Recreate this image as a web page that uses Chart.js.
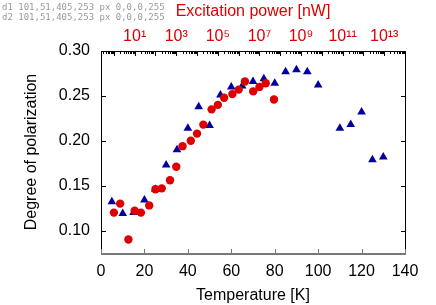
<!DOCTYPE html>
<html>
<head>
<meta charset="utf-8">
<script src="https://cdn.jsdelivr.net/npm/chart.js@4/dist/chart.umd.min.js"></script>
<style>
  html, body { margin: 0; background: #fff; }
  #wrap { width: 436px; height: 305px; position: relative; }
  #note { position: absolute; left: 2px; top: 2px; font: 9px monospace; color: #999; white-space: pre; }
</style>
</head>
<body>
<div id="wrap"><canvas id="chart"></canvas><div id="note"></div></div>
<script>
"use strict";
const note = document.getElementById("note");
const say = s => { note.textContent += s + "\n"; };
window.addEventListener("error", e => say("ERR " + e.message));

/* ---- data ---- */
const temperatureK = [5, 10, 15, 20, 25, 30, 35, 40, 45, 50, 55, 60, 65, 70, 75, 80, 85, 90, 95, 100, 110, 115, 120, 125, 130];
const polVsTemp    = [0.132, 0.119, 0.120, 0.134, 0.146, 0.173, 0.190, 0.214, 0.238, 0.217, 0.251, 0.260, 0.261, 0.266,
                      0.269, 0.264, 0.277, 0.279, 0.277, 0.262, 0.214, 0.218, 0.232, 0.179, 0.182];

const powerNW      = [1, 2, 5, 10, 20, 50, 1e2, 2e2, 5e2, 1e3, 2e3, 5e3, 1e4, 2e4, 5e4, 1e5, 2e5, 5e5, 1e6, 2e6, 5e6, 1e7, 2e7, 5e7];
const polVsPower   = [0.120, 0.130, 0.090, 0.122, 0.120, 0.128, 0.146, 0.147, 0.156, 0.171, 0.194, 0.200, 0.208, 0.218,
                      0.235, 0.240, 0.248, 0.252, 0.257, 0.266, 0.255, 0.260, 0.264, 0.246];

const labelledPowerExps = [1, 3, 5, 7, 9, 11, 13];
const powerTickExps     = [-1, 0, 1, 2, 3, 4, 5, 6, 7, 8, 9, 10, 11, 12, 13, 14];
const minorMultipliers  = [2, 3, 4, 5, 6, 7, 8, 9];

const RED   = "rgb(222,0,0)";
const BLUE  = "rgb(0,0,160)";
const AXIS  = "#000";
const FONT  = "'Liberation Sans', Arial, sans-serif";

const SUP = { "0": "⁰", "1": "¹", "2": "²", "3": "³", "4": "⁴", "5": "⁵", "6": "⁶", "7": "⁷", "8": "⁸", "9": "⁹" };
const supText  = n => String(n).split("").map(c => SUP[c]).join("");
const expOf    = v => Math.round(Math.log10(v));
const isDecade = v => Math.abs(Math.log10(v) - expOf(v)) < 1e-9;

const tickFont = { family: FONT, size: 16 };
const noGrid   = { display: false, drawTicks: false };

let draws = 0;

/* gnuplot-style closed frame with inward tick marks */
const frameTicks = {
  id: "frameTicks",
  afterDraw(chart) {
    try {
      const { ctx, chartArea: a, scales } = chart;
      const L = Math.round(a.left), Rt = Math.round(a.right);
      const T = Math.round(a.top),  B = Math.round(a.bottom);
      const at = (s, v) => Math.round(s.getPixelForValue(v));
      const x2 = scales.x2;

      ctx.save();
      ctx.fillStyle = AXIS;
      ctx.fillRect(L, T, Rt - L + 1, 1);
      ctx.fillRect(L, T, 1, B - T + 1);
      ctx.fillRect(Rt, T, 1, B - T + 1);
      scales.y.ticks.forEach(t => {
        const py = at(scales.y, t.value);
        ctx.fillRect(L, py, 5, 1);
        ctx.fillRect(Rt - 4, py, 5, 1);
      });
      powerTickExps.forEach(k => {
        const major = Math.pow(10, k);
        if (major >= x2.min && major <= x2.max) ctx.fillRect(at(x2, major), T, 1, 5);
        minorMultipliers.forEach(m => {
          const v = m * major;
          if (v >= x2.min && v <= x2.max) ctx.fillRect(at(x2, v), T, 1, 3);
        });
      });
      ctx.fillStyle = "#777";
      ctx.fillRect(L, B, Rt - L + 1, 2);
      scales.x.ticks.forEach(t => ctx.fillRect(at(scales.x, t.value), B - 4, 1, 4));
      ctx.restore();

      draws++;
      const px = ctx.getImageData(L, T + 60, 1, 1).data;
      say("d" + draws + " " + [L, T, Rt, B].join(",") + " px " + Array.from(px).join(","));
    } catch (e) { say("plugin " + e.message); }
  },
};

const chart = new Chart(document.getElementById("chart"), {
  type: "scatter",
  data: {
    datasets: [
      {
        label: "vs power",
        xAxisID: "x2",
        data: powerNW.map((p, i) => ({ x: p, y: polVsPower[i] })),
        pointRadius: 4.2,
        pointBorderWidth: 0,
        backgroundColor: RED,
      },
      {
        label: "vs temperature",
        xAxisID: "x",
        data: temperatureK.map((t, i) => ({ x: t, y: polVsTemp[i] })),
        pointStyle: "triangle",
        pointRadius: 5,
        pointBorderWidth: 0,
        backgroundColor: BLUE,
      },
    ],
  },
  options: {
    responsive: true,
    maintainAspectRatio: false,
    animation: false,
    devicePixelRatio: 1,
    layout: { padding: { left: 0, top: 0, bottom: 0, right: 31 } },
    plugins: { legend: { display: false }, tooltip: { enabled: false } },
    scales: {
      x: {
        type: "linear", position: "bottom", min: 0, max: 140,
        ticks: { stepSize: 20, font: tickFont, color: "#000", padding: 9, maxRotation: 0 },
        grid: noGrid,
        border: { display: false },
        title: { display: true, text: "Temperature [K]", font: tickFont, color: "#000", padding: { top: 0, bottom: 0 } },
        afterFit: s => { s.height = 52; },
      },
      x2: {
        type: "logarithmic", position: "top", min: 0.24, max: 1e14,
        afterBuildTicks: s => {
          s.ticks = s.ticks.filter(t => isDecade(t.value) && labelledPowerExps.includes(expOf(t.value)));
        },
        ticks: {
          font: tickFont, color: RED, padding: 5, autoSkip: false, maxRotation: 0, minRotation: 0,
          callback: v => "10" + supText(expOf(v)),
        },
        grid: noGrid,
        border: { display: false },
        title: { display: true, text: "Excitation power [nW]", font: tickFont, color: RED, padding: { top: 1.5, bottom: 0 } },
        afterFit: s => { s.height = 51; },
      },
      y: {
        type: "linear", position: "left", min: 0.075, max: 0.30,
        ticks: { stepSize: 0.05, includeBounds: false, font: tickFont, color: "#000", padding: 11 },
        grid: noGrid,
        border: { display: false },
        title: { display: true, text: "Degree of polarization", font: tickFont, color: "#000", padding: { top: 22, bottom: 0 } },
        afterFit: s => { s.width = 101; },
      },
    },
  },
  plugins: [frameTicks],
});

setTimeout(() => chart.update("none"), 60);
</script>
</body>
</html>
